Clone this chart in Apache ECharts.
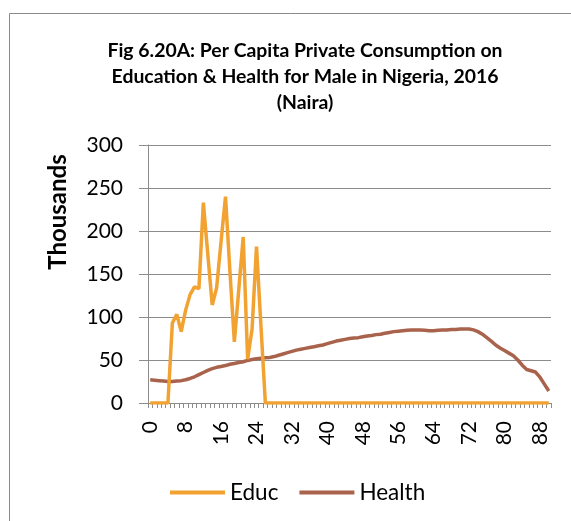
<!DOCTYPE html>
<html>
<head>
<meta charset="utf-8">
<script src="https://cdn.jsdelivr.net/npm/echarts@6/dist/echarts.min.js"></script>
<style>
  html, body { margin: 0; padding: 0; background: #fff; }
  #chart { width: 571px; height: 521px; }
</style>
</head>
<body>
<div id="chart"></div>
<script>
// Ages 0..90
const ages = [];
for (let a = 0; a <= 90; a++) ages.push(String(a));

// Per capita consumption, thousands of Naira
const educ = [
  0, 0, 0, 0, 0, 93, 103, 83, 108, 126,
  135, 133, 233, 173, 114, 134, 188, 240, 153, 71,
  132, 193, 51, 86, 182, 90, 0, 0, 0, 0,
  0, 0, 0, 0, 0, 0, 0, 0, 0, 0,
  0, 0, 0, 0, 0, 0, 0, 0, 0, 0,
  0, 0, 0, 0, 0, 0, 0, 0, 0, 0,
  0, 0, 0, 0, 0, 0, 0, 0, 0, 0,
  0, 0, 0, 0, 0, 0, 0, 0, 0, 0,
  0, 0, 0, 0, 0, 0, 0, 0, 0, 0,
  0
];

const health = [
  27, 26.5, 26, 25.5, 25, 25, 25.5, 26, 27, 28.5,
  30.5, 33, 35.5, 38, 40, 41.5, 42.5, 43.5, 45, 46,
  47, 48, 49.5, 50.5, 51.5, 52, 52.5, 53, 54, 55.5,
  57, 58.5, 60, 61.5, 62.5, 63.5, 64.5, 65.5, 66.5, 67.5,
  69, 70.5, 72, 73, 74, 75, 75.5, 76, 77, 78,
  78.5, 79.5, 80, 81, 82, 83, 83.5, 84, 84.5, 85,
  85, 85, 84.5, 84, 84, 84.5, 85, 85, 85.5, 85.5,
  86, 86, 86, 85, 83, 80, 76, 72, 67.5, 64,
  61, 58, 55, 50, 44, 39, 37.5, 36, 30, 22,
  14
];

const titleText = 'Fig 6.20A: Per Capita Private Consumption on\nEducation & Health for Male in Nigeria, 2016\n(Naira)';
const FONT = 'Lato, "Open Sans", sans-serif';

const chart = echarts.init(document.getElementById('chart'), null, { renderer: 'canvas' });

chart.setOption({
  animation: false,
  backgroundColor: '#ffffff',
  textStyle: { fontFamily: FONT },
  graphic: [
    {
      // outer chart frame (its right and bottom edges run past the canvas)
      type: 'rect',
      shape: { x: 9.5, y: 13.5, width: 600, height: 560 },
      style: { fill: 'none', stroke: '#8a8a8a', lineWidth: 1 },
      silent: true,
      z: -10
    },
    {
      // value axis unit label
      type: 'text',
      x: 58,
      y: 212,
      rotation: Math.PI / 2,
      style: {
        text: 'Thousands',
        fontFamily: FONT,
        fontSize: 24,
        fontWeight: 'bold',
        fill: '#000',
        align: 'center',
        verticalAlign: 'middle'
      },
      silent: true
    }
  ],
  title: {
    text: titleText,
    left: 300,
    textAlign: 'center',
    top: 33,
    textStyle: {
      fontFamily: FONT,
      fontSize: 19.4,
      fontWeight: 'bold',
      color: '#000',
      lineHeight: 26
    }
  },
  legend: {
    top: 476,
    left: 165,
    itemWidth: 55,
    itemHeight: 4,
    itemGap: 21,
    icon: 'rect',
    textStyle: { fontFamily: FONT, fontSize: 22.5, color: '#000' },
    data: ['Educ', 'Health']
  },
  grid: { left: 148, right: 20, top: 145, bottom: 118, containLabel: false },
  xAxis: {
    type: 'category',
    data: ages,
    boundaryGap: true,
    axisLine: { lineStyle: { color: '#8c8c8c', width: 1 } },
    axisTick: { show: true, interval: 0, length: 5, lineStyle: { color: '#8c8c8c' } },
    axisLabel: {
      interval: 7,
      rotate: 90,
      fontFamily: FONT,
      fontSize: 21,
      color: '#000',
      margin: 18
    },
    splitLine: { show: false }
  },
  yAxis: {
    type: 'value',
    min: 0,
    max: 300,
    interval: 50,
    axisLine: { show: true, lineStyle: { color: '#8c8c8c', width: 1 } },
    axisTick: { show: true, inside: false, length: 9, lineStyle: { color: '#8c8c8c' } },
    axisLabel: { fontFamily: FONT, fontSize: 21, color: '#000', margin: 25 },
    splitLine: { show: true, lineStyle: { color: '#8c8c8c', width: 1 } }
  },
  series: [
    {
      name: 'Educ',
      type: 'line',
      data: educ,
      showSymbol: false,
      symbol: 'none',
      lineStyle: { color: '#F2A230', width: 3.5 },
      itemStyle: { color: '#F2A230' },
      z: 3
    },
    {
      name: 'Health',
      type: 'line',
      data: health,
      showSymbol: false,
      symbol: 'none',
      lineStyle: { color: '#A9634C', width: 3.5 },
      itemStyle: { color: '#A9634C' },
      z: 2
    }
  ]
});
</script>
</body>
</html>
